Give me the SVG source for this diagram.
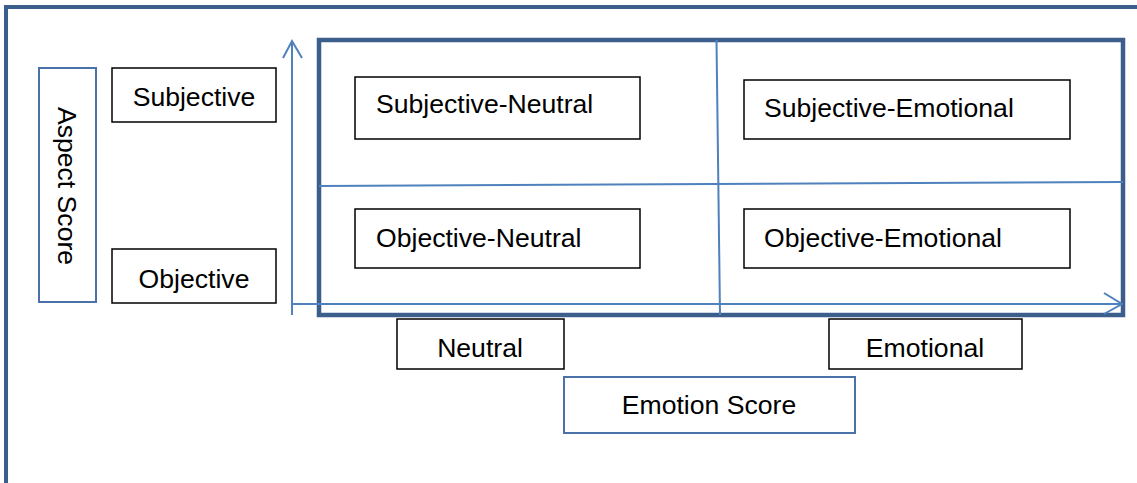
<svg xmlns="http://www.w3.org/2000/svg" width="1137" height="483" viewBox="0 0 1137 483">
<defs>
<style>
.t{font-family:"Liberation Sans",Arial,sans-serif;font-size:26.6px;fill:#000}
.bk{fill:#fff;stroke:#000;stroke-width:1.5}
.bl{fill:#fff;stroke:#4A72A8;stroke-width:2}
.ax{fill:none;stroke:#4F81BD;stroke-width:2}
.fr{fill:none;stroke:#3B5E8C;stroke-width:4}
.fr2{fill:none;stroke:#3B5E8C;stroke-width:4.5}
</style>
</defs>
<rect width="1137" height="483" fill="#fff"/>
<g id="frame"><rect class="fr" x="6" y="7" width="1140" height="490"/></g>
<g id="plot"><rect class="fr2" x="319" y="40" width="804" height="275"/></g>
<g id="connectors">
<line class="ax" x1="292" y1="41" x2="292" y2="315"/>
<polyline class="ax" points="283,58 292,41 302,58"/>
<line class="ax" x1="292" y1="304" x2="1122" y2="304"/>
<polyline class="ax" points="1104,293 1122,304 1104,314"/>
<line class="ax" x1="319" y1="186" x2="1123" y2="182"/>
<line class="ax" x1="716.5" y1="40" x2="720" y2="315"/>
</g>
<g id="aspect-score"><rect class="bl" x="39" y="68" width="57" height="234"/><text class="t" transform="translate(58,186) rotate(90)" text-anchor="middle">Aspect Score</text></g>
<g id="subjective"><rect class="bk" x="112" y="68" width="164" height="54"/><text class="t" x="194" y="106" text-anchor="middle">Subjective</text></g>
<g id="objective"><rect class="bk" x="112" y="249" width="164" height="54"/><text class="t" x="194" y="288" text-anchor="middle">Objective</text></g>
<g id="subjective-neutral"><rect class="bk" x="355" y="77" width="285" height="62"/><text class="t" x="376" y="113">Subjective-Neutral</text></g>
<g id="subjective-emotional"><rect class="bk" x="744" y="80" width="326" height="59"/><text class="t" x="764" y="117">Subjective-Emotional</text></g>
<g id="objective-neutral"><rect class="bk" x="355" y="209" width="285" height="59"/><text class="t" x="376" y="247">Objective-Neutral</text></g>
<g id="objective-emotional"><rect class="bk" x="744" y="209" width="326" height="59"/><text class="t" x="764" y="247">Objective-Emotional</text></g>
<g id="neutral"><rect class="bk" x="397" y="319" width="167" height="50"/><text class="t" x="480" y="357" text-anchor="middle">Neutral</text></g>
<g id="emotional"><rect class="bk" x="829" y="319" width="193" height="50"/><text class="t" x="925" y="357" text-anchor="middle">Emotional</text></g>
<g id="emotion-score"><rect class="bl" x="564" y="377" width="291" height="56"/><text class="t" x="709" y="414" text-anchor="middle">Emotion Score</text></g>
</svg>
